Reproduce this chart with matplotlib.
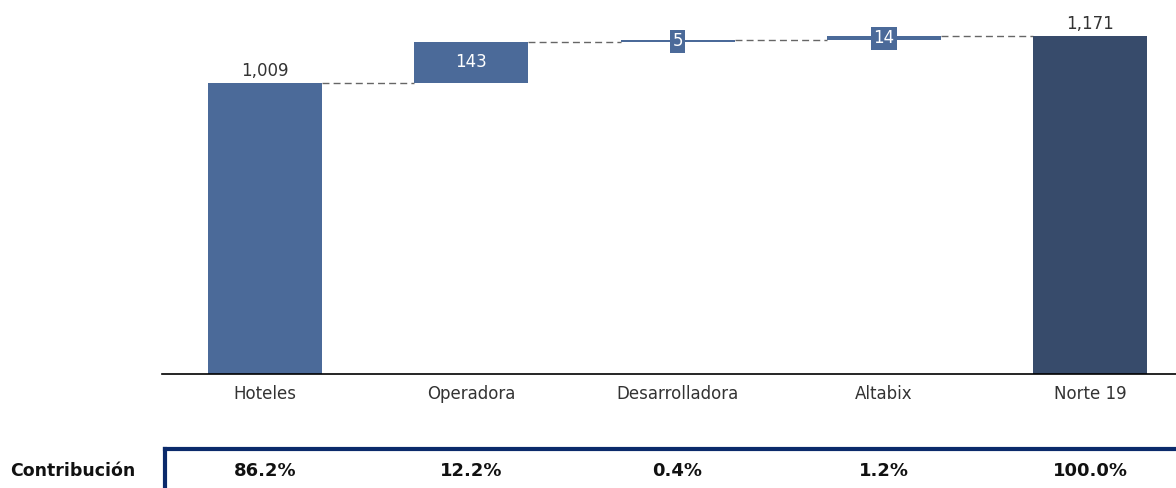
import matplotlib
matplotlib.use("Agg")
import matplotlib.pyplot as plt
from matplotlib.lines import Line2D

categories = ["Hoteles", "Operadora", "Desarrolladora", "Altabix", "Norte 19"]
values = [1009, 143, 5, 14, 1171]
contribution = ["86.2%", "12.2%", "0.4%", "1.2%", "100.0%"]
row_label = "Contribución"

plt.rcParams['font.family'] = ['DejaVu Sans']

c_main = "#4B6A99"
c_total = "#374B6B"
c_box = "#0B2A6B"
c_text = "#333333"

fig = plt.figure(figsize=(11.76, 4.88), dpi=100)
W, H = 1176, 488
ax = fig.add_axes([162 / W, (H - 374) / H, (1176 - 162) / W, 374 / H])

n = len(categories)
bottoms = []
heights = []
cum = 0
for i, v in enumerate(values):
    if i == 0 or i == n - 1:
        bottoms.append(0)
        heights.append(v)
        cum = v if i == 0 else cum
    else:
        bottoms.append(cum)
        heights.append(v)
        cum += v

colors = [c_main] * (n - 1) + [c_total]
bw = 0.553
x = list(range(n))
ax.bar(x, heights, bottom=bottoms, width=bw, color=colors, edgecolor='none', zorder=2)

# connectors
for i in range(n - 1):
    level = bottoms[i] + heights[i]
    ax.plot([i + bw / 2, i + 1 - bw / 2], [level, level], ls=(0, (5, 3)), color="#666666", lw=1.0, zorder=1)

# labels
for i, v in enumerate(values):
    top = bottoms[i] + heights[i]
    lab = f"{v:,}"
    if i == 0 or i == n - 1:
        ax.text(i, top + 12, lab, ha='center', va='bottom', fontsize=12, color=c_text)
    elif v >= 50:
        ax.text(i, bottoms[i] + v / 2, lab, ha='center', va='center', fontsize=12, color="white")
    else:
        ax.text(i, bottoms[i] + v / 2, lab, ha='center', va='center', fontsize=12, color="white",
                bbox=dict(boxstyle='square,pad=0.15', fc=c_main, ec='none'))

ax.set_xlim(-0.5, 4.417)
ax.set_ylim(0, 1297)
for s in ['top', 'right', 'left']:
    ax.spines[s].set_visible(False)
ax.spines['bottom'].set_color('black')
ax.spines['bottom'].set_linewidth(1.2)
ax.set_yticks([])
ax.set_xticks(x)
ax.set_xticklabels(categories, fontsize=12, color=c_text)
ax.tick_params(axis='x', length=0, pad=8)

# contribution row
fig.text(10 / W, 1 - 471 / H, row_label, ha='left', va='center', fontsize=12.5, fontweight='bold', color='#111111')
fig.add_artist(Line2D([165 / W, 165 / W], [0, 1 - 449 / H], color=c_box, lw=3, transform=fig.transFigure, solid_capstyle='projecting'))
fig.add_artist(Line2D([165 / W, 1.0], [1 - 449 / H, 1 - 449 / H], color=c_box, lw=3, transform=fig.transFigure, solid_capstyle='projecting'))
for i, c in enumerate(contribution):
    xf = ax.transData.transform((i, 0))[0]
    xfig = fig.transFigure.inverted().transform((xf, 0))[0]
    fig.text(xfig, 1 - 471 / H, c, ha='center', va='center', fontsize=13, fontweight='bold', color='#111111')

fig.savefig("out.png", dpi=100)
